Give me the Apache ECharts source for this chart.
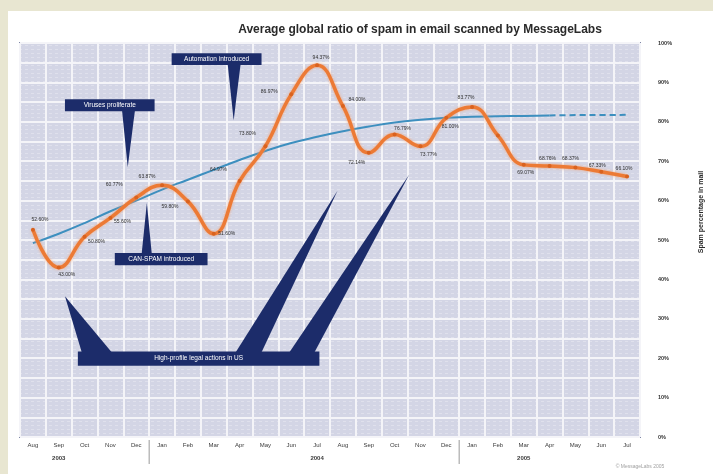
<!DOCTYPE html>
<html>
<head>
<meta charset="utf-8">
<script src="https://cdn.jsdelivr.net/npm/echarts@6/dist/echarts.min.js"></script>
<style>
  html, body { margin: 0; padding: 0; background: #e8e6d1; }
  #panel { position: absolute; left: 8px; top: 11px; right: 0; bottom: 0; background: #ffffff; }
  #chart { position: absolute; left: 0; top: 0; width: 713px; height: 474px; }
</style>
</head>
<body>
<div id="panel"></div>
<div id="chart"></div>
<script>
// Months, Aug 2003 to Jul 2005
const months = ['Aug','Sep','Oct','Nov','Dec','Jan','Feb','Mar','Apr','May','Jun','Jul',
                'Aug','Sep','Oct','Nov','Dec','Jan','Feb','Mar','Apr','May','Jun','Jul'];
const years = ['', '2003', '', '', '', '', '', '', '', '', '', '2004',
               '', '', '', '', '', '', '', '2005', '', '', '', ''];

// Monthly spam ratio (%)
const spamRatio = [52.6, 43.0, 50.8, 55.6, 60.77, 63.87, 59.8, 51.6, 64.97, 73.8, 86.97, 94.37,
                   84.0, 72.14, 76.79, 73.77, 81.0, 83.77, 76.5, 69.07, 68.76, 68.37, 67.33, 66.1];
// Months whose value is printed next to the point
const labelled = [1,1,1,1,1,1,1,1,1,1,1,1, 1,1,1,1,1,1,0,1,1,1,1,1];

// Trend line: fitted part and projected part
const trendFitted = [49.2, 51.6, 54.3, 57.3, 60.0, 62.8, 65.3, 67.8, 70.3, 72.6, 74.6, 76.2,
                     77.6, 78.8, 79.8, 80.5, 81.0, 81.3, 81.4, 81.5, 81.6, null, null, null];
const trendProjected = [null, null, null, null, null, null, null, null, null, null, null, null,
                        null, null, null, null, null, null, null, null, 81.6, 81.7, 81.7, 81.8];

const yTicks = [0, 10, 20, 30, 40, 50, 60, 70, 80, 90, 100];

// Callout texts
const calloutTexts = ['Viruses proliferate', 'Automation introduced', 'CAN-SPAM introduced',
                      'High-profile legal actions in US'];

// Label nudges (px) for each point label
const labelNudge = [[7,-10],[8,7],[12,5],[12,4],[-22,-13],[-15,-9],[-18,5],[13,0],[-21,-11],[-18,-13],
                    [-22,-3],[4,-8],[14,-6],[-12,10],[8,-6],[8,8],[4,9],[-6,-9],[0,0],[2,8],
                    [-2,-7],[-5,-9],[-4,-6],[-3,-8]];

// Plot background texture
function makeTexture() {
  const c = document.createElement('canvas');
  c.width = 6; c.height = 4;
  const g = c.getContext('2d');
  g.fillStyle = '#d3d5e5';
  g.fillRect(0, 0, 6, 4);
  g.fillStyle = '#dfe0ec';
  g.fillRect(1, 1, 3, 1);
  return c;
}

const chart = echarts.init(document.getElementById('chart'), null, { renderer: 'canvas' });

const orangeData = spamRatio.map((v, i) => ({
  value: v,
  label: {
    show: !!labelled[i],
    position: 'inside',
    offset: labelNudge[i],
    formatter: (p) => p.value.toFixed(2) + '%'
  }
}));

chart.setOption({
  animation: false,
  backgroundColor: 'transparent',
  grid: {
    left: 20, right: 73, top: 43, bottom: 37,
    show: true,
    backgroundColor: { image: makeTexture(), repeat: 'repeat' },
    borderColor: '#7f87a6',
    borderWidth: 2
  },
  xAxis: [{
    type: 'category',
    data: months,
    boundaryGap: true,
    axisLine: { show: false },
    axisTick: { show: false },
    axisLabel: { interval: 0, fontSize: 6, color: '#3a3a3a', margin: 5, fontFamily: 'Liberation Sans' },
    splitLine: { show: true, interval: 0, lineStyle: { color: '#f4f4f8', width: 2 } },
    z: 1
  }, {
    type: 'category',
    data: years,
    position: 'bottom',
    offset: 13,
    boundaryGap: true,
    axisLine: { show: false },
    axisTick: { show: false },
    axisLabel: { interval: 0, fontSize: 6, fontWeight: 'bold', color: '#3a3a3a', margin: 5 },
    splitLine: { show: false }
  }],
  yAxis: {
    type: 'value',
    position: 'right',
    min: 0, max: 100, interval: 10,
    axisLine: { show: false },
    axisTick: { show: false },
    axisLabel: { fontSize: 5.5, fontWeight: 'bold', color: '#333', margin: 18,
                 formatter: (v) => yTicks.includes(v) ? v + '%' : '' },
    splitLine: { show: true, lineStyle: { color: '#f4f4f8', width: 2 } },
    minorTick: { show: false, splitNumber: 2 },
    minorSplitLine: { show: true, lineStyle: { color: '#f4f4f8', width: 2 } }
  },
  series: [{
    name: 'Trend',
    type: 'line',
    data: trendFitted,
    smooth: true,
    showSymbol: false,
    lineStyle: { color: '#3d8fbf', width: 2 },
    z: 3
  }, {
    name: 'Trend projection',
    type: 'line',
    data: trendProjected,
    smooth: true,
    showSymbol: false,
    lineStyle: { color: '#3d8fbf', width: 2, type: [6, 4] },
    z: 3
  }, {
    name: 'Spam ratio',
    type: 'line',
    data: orangeData,
    smooth: 0.45,
    symbol: 'circle',
    symbolSize: 4,
    itemStyle: { color: '#d9621f' },
    lineStyle: { color: '#ec7a35', width: 3.5, shadowColor: 'rgba(245,160,110,0.9)', shadowBlur: 3 },
    label: { fontSize: 5, color: '#2e2e2e', fontFamily: 'Liberation Sans' },
    z: 5
  }]
});

// Axis-space helpers for callouts
function px(i, v) {
  const x0 = chart.convertToPixel({ xAxisIndex: 0 }, 0);
  const x1 = chart.convertToPixel({ xAxisIndex: 0 }, 1);
  const y = chart.convertToPixel({ yAxisIndex: 0 }, v);
  return [x0 + (x1 - x0) * i, y];
}

const navy = '#1c2c6a';
const graphics = [];

function box(i0, v0, i1, v1, text) {
  const a = px(i0, v0), b = px(i1, v1);
  graphics.push({
    type: 'rect', z: 20,
    shape: { x: a[0], y: a[1], width: b[0] - a[0], height: b[1] - a[1] },
    style: { fill: navy }
  });
  graphics.push({
    type: 'text', z: 21,
    x: (a[0] + b[0]) / 2, y: (a[1] + b[1]) / 2,
    style: { text: text, fill: '#ffffff', fontSize: 6.5, align: 'center', verticalAlign: 'middle',
             fontFamily: 'Liberation Sans' }
  });
}
function wedge(ia, ib, vBase, it, vt) {
  const a = px(ia, vBase), b = px(ib, vBase), t = px(it, vt);
  graphics.push({
    type: 'polygon', z: 19,
    shape: { points: [a, b, t] },
    style: { fill: navy }
  });
}

// Callout 1
box(1.24, 85.7, 4.71, 82.7, calloutTexts[0]);
wedge(3.45, 3.95, 82.9, 3.67, 68.5);
// Callout 2
box(5.37, 97.4, 8.85, 94.4, calloutTexts[1]);
wedge(7.54, 8.04, 94.6, 7.77, 80.4);
// Callout 3
box(3.17, 46.7, 6.76, 43.6, calloutTexts[2]);
wedge(4.21, 4.60, 46.5, 4.41, 59.4);
// Callout 4 with three pointers
box(1.74, 21.7, 11.09, 18.1, calloutTexts[3]);
wedge(1.89, 3.05, 21.5, 1.24, 35.7);
wedge(7.85, 8.85, 21.5, 11.79, 62.5);
wedge(9.93, 10.90, 21.5, 14.57, 66.6);

// Year dividers below the axis
[4.5, 16.5].forEach((i) => {
  const p = px(i, 0);
  graphics.push({
    type: 'line', z: 10,
    shape: { x1: p[0], y1: p[1] + 3, x2: p[0], y2: p[1] + 27 },
    style: { stroke: '#9a9a9a', lineWidth: 1 }
  });
});

// Title, axis name, credit line
graphics.push({
  type: 'text', x: 420, y: 30, z: 30,
  style: { text: 'Average global ratio of spam in email scanned by MessageLabs', fill: '#2a2a2a',
           fontSize: 12, fontWeight: 'bold', align: 'center', verticalAlign: 'middle',
           fontFamily: 'Liberation Sans Narrow, Liberation Sans, sans-serif' }
});
graphics.push({
  type: 'text', x: 701, y: 212, z: 30, rotation: Math.PI / 2,
  style: { text: 'Spam percentage in mail', fill: '#2a2a2a', fontSize: 7, fontWeight: 'bold',
           align: 'center', verticalAlign: 'middle', fontFamily: 'Liberation Sans' }
});
graphics.push({
  type: 'text', x: 640, y: 467, z: 30,
  style: { text: '© MessageLabs 2005', fill: '#a0a0a0', fontSize: 5, align: 'center',
           verticalAlign: 'middle', fontFamily: 'Liberation Sans' }
});

chart.setOption({ graphic: graphics });
</script>
</body>
</html>
